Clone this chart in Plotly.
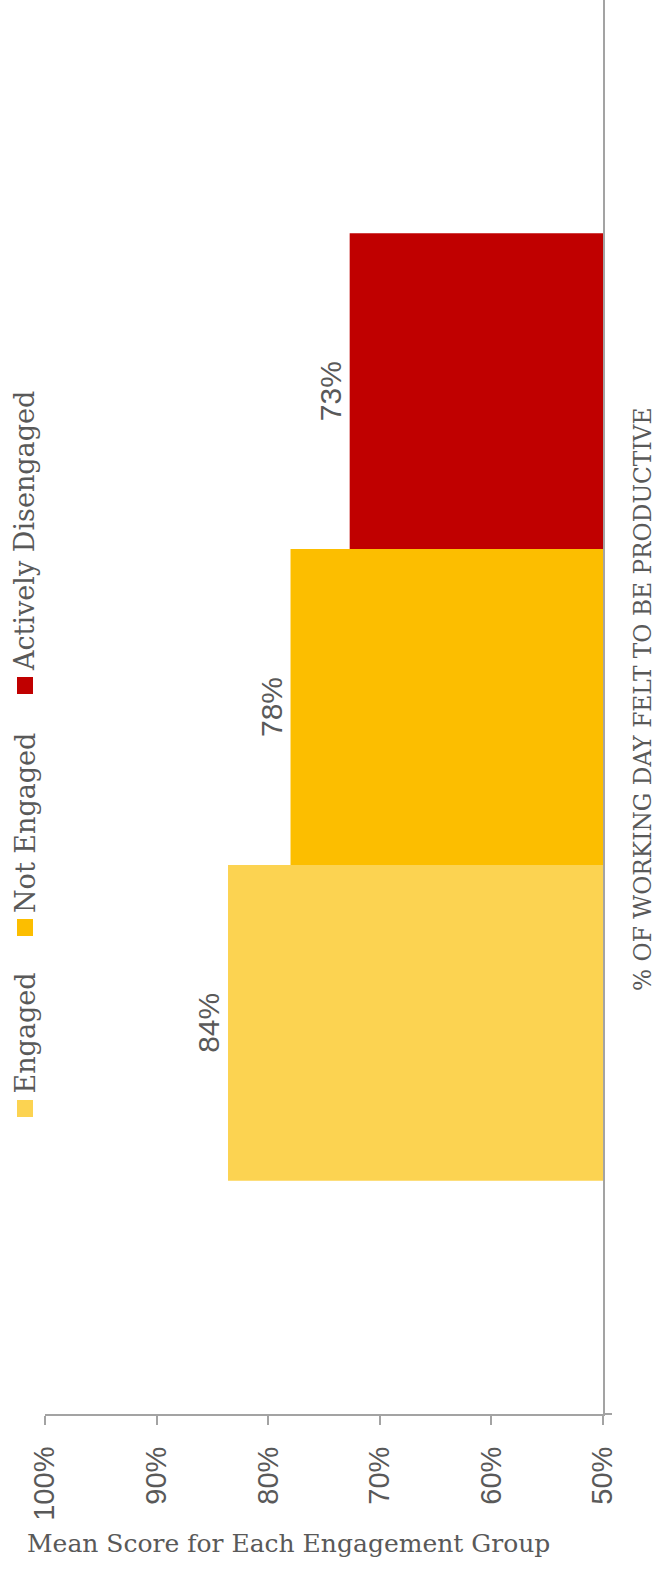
import plotly.graph_objects as go

# ---- data ----
groups = ["Engaged", "Not Engaged", "Actively Disengaged"]
scores = [83.6, 78.0, 72.7]
colors = ["#FCD351", "#FCBE00", "#C00000"]
category = ["Mean Score"]
axis_min, axis_max = 50, 100
tick_vals = [50, 60, 70, 80, 90, 100]
tick_text = ["50%", "60%", "70%", "80%", "90%", "100%"]
title_text = "% OF WORKING DAY FELT TO BE PRODUCTIVE"
axis_title_text = "Mean Score for Each Engagement Group"

# ---- layout constants ----
W, H = 655, 1572
ML, MR, MT, MB = 45, 52, 0, 158
PW, PH = W - ML - MR, H - MT - MB
GRAY = "#595959"
LINE = "#A3A3A3"
SERIF = "DejaVu Serif"
SANS = "Liberation Sans"


def px_x(px):
    return (px - ML) / PW


def px_y(py):
    return (MT + PH - py) / PH


fig = go.Figure()
for g, v, c in zip(groups, scores, colors):
    fig.add_trace(go.Bar(
        x=[v - axis_min], base=axis_min, y=category, orientation="h", name=g,
        customdata=[v],
        marker=dict(color=c, line=dict(width=0)),
        texttemplate="%{customdata:.0f}%", textposition="outside", textangle=-90,
        constraintext="none", cliponaxis=False,
        textfont=dict(family=SANS, size=30, color=GRAY),
        showlegend=False,
    ))

# custom rotated legend
legend_swatch_px = [1100, 919, 677]   # top y of each swatch
annotations = []
shapes = []
for g, c, sy in zip(groups, colors, legend_swatch_px):
    shapes.append(dict(type="rect", xref="paper", yref="paper",
                       x0=px_x(17), x1=px_x(33), y0=px_y(sy + 17), y1=px_y(sy),
                       fillcolor=c, line=dict(width=0)))
    annotations.append(dict(text=g, xref="paper", yref="paper",
                            x=px_x(25), y=px_y(sy - 4), xanchor="center", yanchor="bottom",
                            textangle=-90, showarrow=False,
                            font=dict(family=SERIF, size=27, color=GRAY)))

annotations.append(dict(text=title_text, xref="paper", yref="paper",
                        x=px_x(642), y=px_y(700), xanchor="center", yanchor="middle",
                        textangle=-90, showarrow=False,
                        font=dict(family=SERIF, size=23.3, color=GRAY)))
annotations.append(dict(text=axis_title_text, xref="paper", yref="paper",
                        x=px_x(288), y=px_y(1543), xanchor="center", yanchor="middle",
                        showarrow=False,
                        font=dict(family=SERIF, size=25, color=GRAY)))

# category-axis tick at the lower boundary
shapes.append(dict(type="line", xref="paper", yref="paper",
                   x0=1, x1=px_x(612), y0=0, y1=0, line=dict(color=LINE, width=2)))

fig.update_layout(
    width=W, height=H,
    margin=dict(l=ML, r=MR, t=MT, b=MB, pad=0),
    plot_bgcolor="white", paper_bgcolor="white",
    barmode="group", bargap=0.33, bargroupgap=0,
    annotations=annotations, shapes=shapes,
    xaxis=dict(range=[axis_max, axis_min], tickvals=tick_vals, ticktext=tick_text,
               tickangle=-90, ticks="outside", ticklen=9, tickwidth=2, tickcolor=LINE,
               showline=True, linecolor=LINE, linewidth=2, showgrid=False, zeroline=False,
               ticklabelstandoff=10,
               tickfont=dict(family=SANS, size=29, color=GRAY)),
    yaxis=dict(side="right", showticklabels=False, ticks="", showline=True,
               linecolor=LINE, linewidth=2, showgrid=False, zeroline=False),
)

fig.write_html("out.html")
